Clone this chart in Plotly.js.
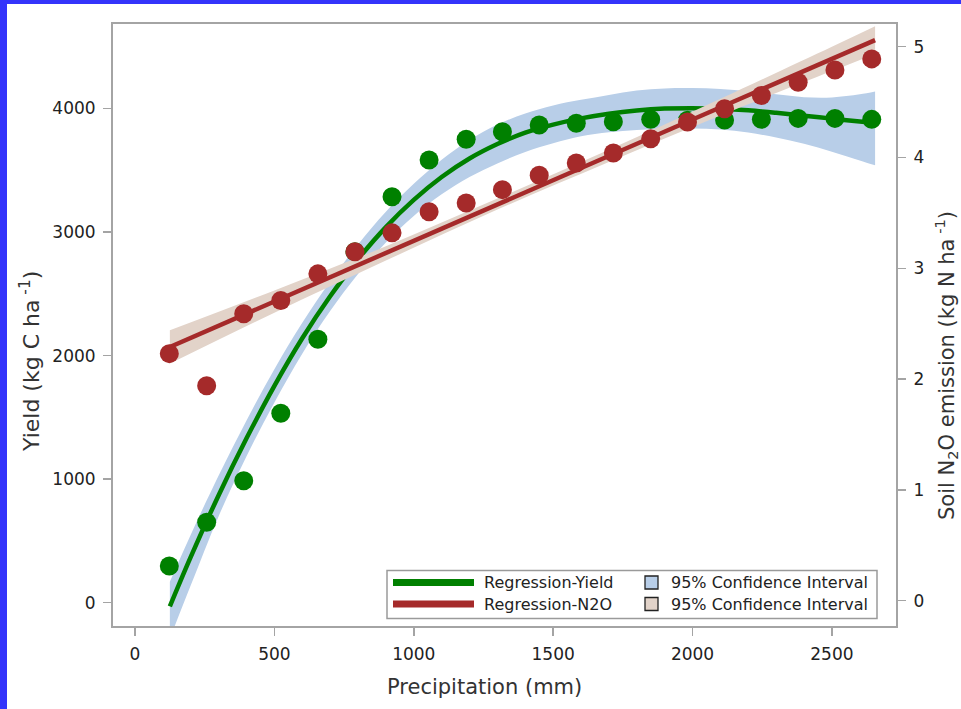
<!DOCTYPE html>
<html>
<head>
<meta charset="utf-8">
<script src="https://cdn.plot.ly/plotly-3.0.1.min.js"></script>
<style>
  html, body { margin: 0; padding: 0; background: #3434fb; width: 961px; height: 709px; overflow: hidden; }
  #chart { position: absolute; left: 7px; top: 4px; width: 954px; height: 705px; background: #fff; }
</style>
</head>
<body>
<div id="chart"></div>
<script>
// ---- Observed data ----
const precip = [123, 257, 390, 523, 656, 789, 922, 1055, 1188, 1318, 1450, 1583, 1716, 1850, 1982, 2115, 2247, 2379, 2511, 2643];
const yieldObs = [297, 651, 987, 1533, 2132, 2840, 3286, 3583, 3751, 3812, 3866, 3880, 3893, 3912, 3905, 3907, 3912, 3920, 3920, 3912];
const n2oObs = [2.23, 1.94, 2.59, 2.71, 2.95, 3.15, 3.32, 3.51, 3.59, 3.71, 3.84, 3.95, 4.04, 4.17, 4.32, 4.44, 4.56, 4.68, 4.79, 4.89];

// ---- Regression-Yield fit and 95% CI ----
const yieldFitX  = [125, 200, 300, 400, 500, 600, 700, 800, 900, 1000, 1100, 1200, 1300, 1400, 1500, 1600, 1700, 1800, 1900, 2000, 2100, 2200, 2300, 2400, 2500, 2600, 2655];
const yieldFit   = [-30, 370, 870, 1330, 1755, 2140, 2480, 2780, 3040, 3260, 3445, 3595, 3712, 3805, 3870, 3920, 3958, 3984, 3999, 4003, 3998, 3985, 3965, 3942, 3918, 3894, 3882];
const yieldUpper = [170, 550, 1030, 1475, 1890, 2265, 2600, 2900, 3165, 3390, 3585, 3745, 3870, 3960, 4025, 4070, 4110, 4145, 4162, 4165, 4158, 4140, 4115, 4092, 4090, 4115, 4138];
const yieldLower = [-290, 140, 700, 1185, 1620, 2015, 2360, 2660, 2915, 3130, 3305, 3445, 3555, 3648, 3718, 3775, 3808, 3825, 3836, 3838, 3830, 3805, 3765, 3715, 3650, 3580, 3540];

// ---- Regression-N2O fit and 95% CI ----
const n2oFitX  = [125, 500, 900, 1300, 1700, 2100, 2500, 2655];
const n2oFit   = [2.29, 2.70, 3.14, 3.58, 4.01, 4.45, 4.89, 5.06];
const n2oUpper = [2.44, 2.80, 3.20, 3.63, 4.07, 4.53, 5.00, 5.185];
const n2oLower = [2.14, 2.60, 3.07, 3.53, 3.96, 4.38, 4.78, 4.935];

// ---- Labels ----
const xTitle = 'Precipitation (mm)';
const yTitle = 'Yield (kg C ha<sup> -1</sup>)';
const y2Title = 'Soil N<sub>2</sub>O emission (kg N ha<sup> -1</sup>)';
const legendLabels = ['Regression-Yield', 'Regression-N2O', '95% Confidence Interval', '95% Confidence Interval'];

const GREEN = '#008000';
const RED = '#a52a2a';
const BLUEBAND = '#b8cee8';
const TANBAND = '#e2d3c9';
const AXIS = '#a4a4a4';
const FONT = 'DejaVu Sans, Verdana, sans-serif';

const traces = [
  { x: yieldFitX, y: yieldLower, type: 'scatter', mode: 'lines', line: { width: 0, shape: 'spline', color: BLUEBAND }, yaxis: 'y', showlegend: false, hoverinfo: 'skip' },
  { x: yieldFitX, y: yieldUpper, type: 'scatter', mode: 'lines', fill: 'tonexty', fillcolor: BLUEBAND, line: { width: 0, shape: 'spline', color: BLUEBAND }, yaxis: 'y', showlegend: false, hoverinfo: 'skip' },
  { x: yieldFitX, y: yieldFit, type: 'scatter', mode: 'lines', line: { color: GREEN, width: 4.5, shape: 'spline' }, yaxis: 'y', showlegend: false },
  { x: precip, y: yieldObs, type: 'scatter', mode: 'markers', marker: { color: GREEN, size: 19 }, yaxis: 'y', showlegend: false },
  { x: n2oFitX, y: n2oLower, type: 'scatter', mode: 'lines', line: { width: 0, shape: 'spline', color: TANBAND }, xaxis: 'x', yaxis: 'y2', showlegend: false, hoverinfo: 'skip' },
  { x: n2oFitX, y: n2oUpper, type: 'scatter', mode: 'lines', fill: 'tonexty', fillcolor: TANBAND, line: { width: 0, shape: 'spline', color: TANBAND }, xaxis: 'x', yaxis: 'y2', showlegend: false, hoverinfo: 'skip' },
  { x: n2oFitX, y: n2oFit, type: 'scatter', mode: 'lines', line: { color: RED, width: 4.5 }, xaxis: 'x', yaxis: 'y2', showlegend: false },
  { x: precip, y: n2oObs, type: 'scatter', mode: 'markers', marker: { color: RED, size: 19 }, xaxis: 'x', yaxis: 'y2', showlegend: false }
];

// paper coordinate helpers (plot area: px x 113..896, y 24..626 in window)
const L = 113, R = 896, T = 24, B = 626;
const px = v => (v - L) / (R - L);
const py = v => (B - v) / (B - T);

const shapes = [
  { type: 'rect', xref: 'paper', yref: 'paper', x0: px(387), x1: px(877), y0: py(618.5), y1: py(570.5), line: { color: '#9a9a9a', width: 1.5 }, fillcolor: 'rgba(255,255,255,0)' },
  { type: 'line', xref: 'paper', yref: 'paper', x0: px(393), x1: px(474), y0: py(582.5), y1: py(582.5), line: { color: GREEN, width: 7 } },
  { type: 'line', xref: 'paper', yref: 'paper', x0: px(393), x1: px(474), y0: py(604), y1: py(604), line: { color: RED, width: 7 } },
  { type: 'rect', xref: 'paper', yref: 'paper', x0: px(645), x1: px(658), y0: py(589), y1: py(576), fillcolor: BLUEBAND, line: { color: '#222', width: 1.3 } },
  { type: 'rect', xref: 'paper', yref: 'paper', x0: px(645), x1: px(658), y0: py(610.5), y1: py(597.5), fillcolor: TANBAND, line: { color: '#222', width: 1.3 } }
];

const annFont = { family: FONT, size: 16, color: '#222' };
const annotations = [
  { xref: 'paper', yref: 'paper', x: px(482), y: py(582.5), text: legendLabels[0], showarrow: false, xanchor: 'left', yanchor: 'middle', font: annFont },
  { xref: 'paper', yref: 'paper', x: px(482), y: py(604), text: legendLabels[1], showarrow: false, xanchor: 'left', yanchor: 'middle', font: annFont },
  { xref: 'paper', yref: 'paper', x: px(669), y: py(582.5), text: legendLabels[2], showarrow: false, xanchor: 'left', yanchor: 'middle', font: annFont },
  { xref: 'paper', yref: 'paper', x: px(669), y: py(604), text: legendLabels[3], showarrow: false, xanchor: 'left', yanchor: 'middle', font: annFont },
  { xref: 'paper', yref: 'paper', x: px(484.5), y: py(687), text: xTitle, showarrow: false, xanchor: 'center', yanchor: 'middle', font: { family: FONT, size: 21, color: '#333' } },
  { xref: 'paper', yref: 'paper', x: px(30), y: py(362), text: yTitle, textangle: -90, showarrow: false, xanchor: 'center', yanchor: 'middle', font: { family: FONT, size: 22, color: '#333' } },
  { xref: 'paper', yref: 'paper', x: px(946), y: py(366), text: y2Title, textangle: -90, showarrow: false, xanchor: 'center', yanchor: 'middle', font: { family: FONT, size: 21, color: '#333' } }
];

const tickFont = { family: FONT, size: 17, color: '#222' };
const layout = {
  width: 954, height: 705,
  margin: { l: L - 7, r: 954 - (R - 7), t: T - 4, b: 705 - (B - 4), pad: 0 },
  paper_bgcolor: '#ffffff', plot_bgcolor: '#ffffff',
  showlegend: false,
  xaxis: {
    range: [-79, 2730], tickvals: [0, 500, 1000, 1500, 2000, 2500],
    showgrid: false, zeroline: false, showline: true, mirror: true,
    linecolor: AXIS, linewidth: 2, ticks: 'outside', ticklen: 8, tickwidth: 1.5, tickcolor: AXIS,
    tickfont: tickFont, ticklabelstandoff: 4
  },
  yaxis: {
    range: [-189, 4684], tickvals: [0, 1000, 2000, 3000, 4000],
    showgrid: false, zeroline: false, showline: true,
    linecolor: AXIS, linewidth: 2, ticks: 'outside', ticklen: 8, tickwidth: 1.5, tickcolor: AXIS,
    tickfont: tickFont, ticklabelstandoff: 4
  },
  yaxis2: {
    range: [-0.228, 5.205], tickvals: [0, 1, 2, 3, 4, 5],
    overlaying: 'y', side: 'right',
    showgrid: false, zeroline: false, showline: true,
    linecolor: AXIS, linewidth: 2, ticks: 'outside', ticklen: 8, tickwidth: 1.5, tickcolor: AXIS,
    tickfont: tickFont, ticklabelstandoff: 4
  },
  shapes: shapes,
  annotations: annotations
};

Plotly.newPlot('chart', traces, layout, { displayModeBar: false, staticPlot: true });
</script>
</body>
</html>
